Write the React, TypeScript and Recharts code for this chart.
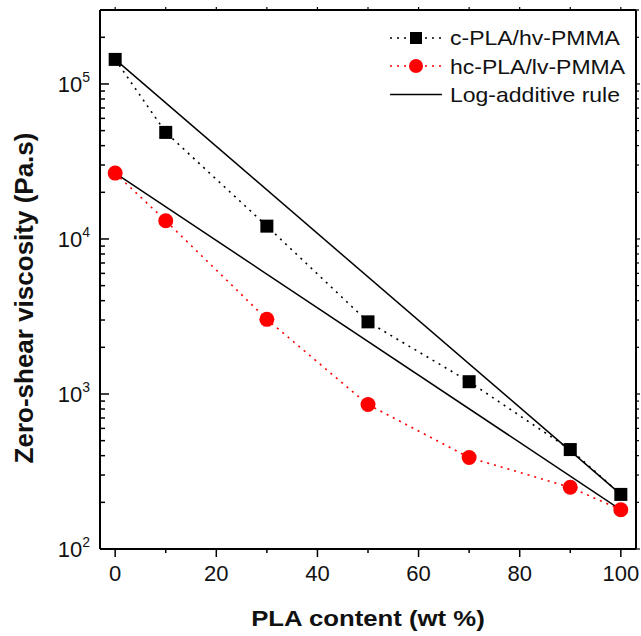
import { LineChart, Line, XAxis, YAxis } from "recharts";

// PLA content (wt %)
const pla = [0, 10, 30, 50, 70, 90, 100];
// zero-shear viscosity (Pa.s)
const cPla = [144000, 48700, 12100, 2920, 1200, 438, 225];
const hcPla = [26600, 13100, 3030, 855, 389, 250, 179];
// log-additive rule end points
const rulePla = [0, 100];
const ruleC = [144000, 225];
const ruleHc = [26600, 179];

const xMajorTicks = [0, 20, 40, 60, 80, 100];
const xMinorTicks = [10, 30, 50, 70, 90];
const yMajorTicks = [100, 1000, 10000, 100000];
const yMinorSteps = [2, 3, 4, 5, 6, 7, 8, 9];

const xTicks = [...xMajorTicks, ...xMinorTicks].sort((a, b) => a - b);
const yTicks = yMajorTicks
  .flatMap((d) => [d, ...yMinorSteps.map((m) => d * m)])
  .filter((v) => v <= 300000);

const data = pla.map((p, i) => {
  const r = rulePla.indexOf(p);
  return {
    pla: p,
    c: cPla[i],
    hc: hcPla[i],
    ruleC: r >= 0 ? ruleC[r] : undefined,
    ruleHc: r >= 0 ? ruleHc[r] : undefined,
  };
});

const FONT = "'Liberation Sans', Arial, sans-serif";
const isMajorY = (v: number) => yMajorTicks.includes(v);

const LeftTick = (props: any) => {
  const { x, y, payload } = props;
  const major = isMajorY(payload.value);
  const exp = Math.round(Math.log10(payload.value));
  return (
    <g>
      <line x1={x} x2={x + (major ? 9 : 5)} y1={y} y2={y} stroke="#000" strokeWidth={1.5} />
      {major && (
        <text x={x - 10} y={y + 8} textAnchor="end" fontFamily={FONT} fontSize={22} fill="#111">
          10
          <tspan fontSize={14} dy={-10}>{exp}</tspan>
        </text>
      )}
    </g>
  );
};

const RightTick = (props: any) => {
  const { x, y, payload } = props;
  const major = isMajorY(payload.value);
  return <line x1={x} x2={x + (major ? 4 : 3)} y1={y} y2={y} stroke="#000" strokeWidth={1.2} />;
};

const BottomTick = (props: any) => {
  const { x, y, payload } = props;
  const major = xMajorTicks.includes(payload.value);
  return (
    <g>
      <line x1={x} x2={x} y1={y} y2={y + (major ? 8 : 4)} stroke="#000" strokeWidth={1.5} />
      {major && (
        <text x={x} y={y + 32} textAnchor="middle" fontFamily={FONT} fontSize={22} fill="#111">
          {payload.value}
        </text>
      )}
    </g>
  );
};

const TopTick = (props: any) => {
  const { x, y } = props;
  return <line x1={x} x2={x} y1={y} y2={y - 3} stroke="#000" strokeWidth={1.2} />;
};

const squareDot = (props: any) => {
  const { cx, cy, key } = props;
  if (cx == null || cy == null) return <g key={key} />;
  return <rect key={key} x={cx - 6.5} y={cy - 6.5} width={13} height={13} fill="#000" />;
};

const circleDot = (props: any) => {
  const { cx, cy, key } = props;
  if (cx == null || cy == null) return <g key={key} />;
  return <circle key={key} cx={cx} cy={cy} r={7.5} fill="#ff0000" />;
};

const axisLine = { stroke: "#000", strokeWidth: 2 };

export default function App() {
  return (
    <div style={{ position: "absolute", left: 0, top: 0, width: 641, height: 636, background: "#fff" }}>
      <LineChart
        width={641}
        height={636}
        data={data}
        margin={{ top: 9, right: 4, bottom: 86, left: 99 }}
      >
        <XAxis
          xAxisId="b"
          dataKey="pla"
          type="number"
          domain={[-3, 103]}
          ticks={xTicks}
          interval={0}
          height={1}
          tickSize={0}
          tickMargin={0}
          tickLine={false}
          axisLine={axisLine}
          tick={BottomTick}
        />
        <XAxis
          xAxisId="t"
          orientation="top"
          dataKey="pla"
          type="number"
          domain={[-3, 103]}
          ticks={xTicks}
          interval={0}
          height={1}
          tickSize={0}
          tickMargin={0}
          tickLine={false}
          axisLine={axisLine}
          tick={TopTick}
        />
        <YAxis
          yAxisId="l"
          type="number"
          scale="log"
          domain={[100, 300000]}
          allowDataOverflow
          ticks={yTicks}
          interval={0}
          width={1}
          tickSize={0}
          tickMargin={0}
          tickLine={false}
          axisLine={axisLine}
          tick={LeftTick}
        />
        <YAxis
          yAxisId="r"
          orientation="right"
          type="number"
          scale="log"
          domain={[100, 300000]}
          allowDataOverflow
          ticks={yTicks}
          interval={0}
          width={1}
          tickSize={0}
          tickMargin={0}
          tickLine={false}
          axisLine={axisLine}
          tick={RightTick}
        />
        <Line
          xAxisId="b"
          yAxisId="l"
          dataKey="ruleC"
          stroke="#000"
          strokeWidth={1.5}
          dot={false}
          connectNulls
          isAnimationActive={false}
        />
        <Line
          xAxisId="b"
          yAxisId="l"
          dataKey="ruleHc"
          stroke="#000"
          strokeWidth={1.5}
          dot={false}
          connectNulls
          isAnimationActive={false}
        />
        <Line
          xAxisId="b"
          yAxisId="l"
          dataKey="c"
          type="linear"
          stroke="#000"
          strokeWidth={1.6}
          strokeDasharray="2 5"
          dot={squareDot}
          isAnimationActive={false}
        />
        <Line
          xAxisId="b"
          yAxisId="l"
          dataKey="hc"
          type="linear"
          stroke="#ff0000"
          strokeWidth={1.6}
          strokeDasharray="2 5"
          dot={circleDot}
          isAnimationActive={false}
        />
      </LineChart>
      <svg
        width={641}
        height={636}
        style={{ position: "absolute", left: 0, top: 0, pointerEvents: "none" }}
        fontFamily={FONT}
      >
        <text
          transform="translate(368,626) scale(1.12,1)"
          textAnchor="middle"
          fontSize={23}
          fontWeight="bold"
          fill="#111"
        >
          PLA content (wt %)
        </text>
        <text
          transform="translate(33,298) rotate(-90)"
          textAnchor="middle"
          fontSize={26}
          fontWeight="bold"
          fill="#111"
        >
          Zero-shear viscosity (Pa.s)
        </text>
        <g fontSize={20} fill="#111">
          <line x1={390} x2={442} y1={38} y2={38} stroke="#000" strokeWidth={1.6} strokeDasharray="2 5" />
          <rect x={410} y={32} width={12} height={12} fill="#000" />
          <text transform="translate(450,45) scale(1.15,1)">c-PLA/hv-PMMA</text>
          <line x1={390} x2={442} y1={66} y2={66} stroke="#ff0000" strokeWidth={1.6} strokeDasharray="2 5" />
          <circle cx={416} cy={66} r={7} fill="#ff0000" />
          <text transform="translate(450,73.5) scale(1.15,1)">hc-PLA/lv-PMMA</text>
          <line x1={390} x2={442} y1={94.5} y2={94.5} stroke="#000" strokeWidth={1.5} />
          <text transform="translate(450,101.5) scale(1.15,1)">Log-additive rule</text>
        </g>
      </svg>
    </div>
  );
}
